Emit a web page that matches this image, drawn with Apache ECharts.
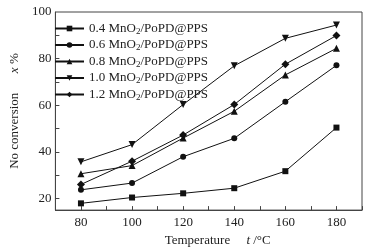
<!DOCTYPE html>
<html>
<head>
<meta charset="utf-8">
<script src="https://cdn.jsdelivr.net/npm/echarts@6/dist/echarts.min.js"></script>
<style>
  html, body { margin: 0; padding: 0; background: #fff; }
  #main { width: 369px; height: 252px; }
</style>
</head>
<body>
<div id="main"></div>
<script>
// 温度 (x轴)
const temps = [80, 100, 120, 140, 160, 180];
// 各样品的 NO 转化率
const conv04 = [17.9, 20.4, 22.2, 24.4, 31.7, 50.4];
const conv06 = [23.7, 26.6, 37.9, 45.8, 61.5, 77.1];
const conv08 = [30.6, 34.1, 45.9, 57.4, 73.0, 84.4];
const conv10 = [35.7, 43.1, 60.3, 76.9, 88.7, 94.4];
const conv12 = [26.0, 36.0, 47.2, 60.3, 77.6, 89.9];
const loadings = ['0.4', '0.6', '0.8', '1.0', '1.2'];
// 刻度
const yLabels = [20, 40, 60, 80, 100];
const yTicks = [20, 30, 40, 50, 60, 70, 80, 90];

const seriesData = [conv04, conv06, conv08, conv10, conv12];
const symbols = ['rect', 'circle', 'triangle', 'path://M0,0 L10,0 L5,9 Z', 'diamond'];
const symbolSizes = [6, 6, 7, 7, 8];

const font = 'Liberation Serif';
const chart = echarts.init(document.getElementById('main'));

let series = [];
for (let i = 0; i < seriesData.length; i++) {
  series.push({
    name: loadings[i] + ' MnO2/PoPD@PPS',
    type: 'line',
    data: temps.map((t, j) => [t, seriesData[i][j]]),
    symbol: symbols[i],
    symbolSize: symbolSizes[i],
    showAllSymbol: true,
    lineStyle: { color: '#111', width: 1 },
    itemStyle: { color: '#111' }
  });
}

chart.setOption({
  animation: false,
  grid: { left: 46, right: 7, top: 12, bottom: 33, show: true, borderColor: '#444', borderWidth: 1 },
  legend: {
    left: 54, top: 21, padding: 0,
    orient: 'vertical',
    itemWidth: 29, itemHeight: 7, itemGap: 1.5,
    textStyle: { fontFamily: font, fontSize: 13, color: '#222', lineHeight: 15,
      rich: {
        a: { fontFamily: font, fontSize: 13, color: '#222', lineHeight: 15 },
        s: { fontFamily: font, fontSize: 9, color: '#222', lineHeight: 15, verticalAlign: 'bottom', padding: [5, 0, 0, 0] }
      }
    },
    formatter: function (name) {
      const p = name.split('MnO2');
      return '{a|' + p[0] + 'MnO}{s|2}{a|' + p[1] + '}';
    }
  },
  xAxis: {
    type: 'value', min: 70, max: 190, interval: 10,
    name: 'Temperature     {i|t} /°C',
    nameLocation: 'middle', nameGap: 23,
    nameTextStyle: { fontFamily: font, fontSize: 13, color: '#222', padding: [0, 0, 0, 18],
      rich: { i: { fontFamily: font, fontStyle: 'italic', fontSize: 13, color: '#222' } } },
    axisLine: { lineStyle: { color: '#444' } },
    axisTick: { inside: true, length: 4, lineStyle: { color: '#444' } },
    axisLabel: { fontFamily: font, fontSize: 13, color: '#222', margin: 6,
      formatter: v => (v % 20 === 0 && v >= 80 && v <= 180) ? String(v) : '' },
    splitLine: { show: false }
  },
  yAxis: {
    type: 'value', min: 15, max: 100,
    name: 'No conversion      {i|x} %',
    nameLocation: 'middle', nameGap: 29,
    nameTextStyle: { fontFamily: font, fontSize: 13, color: '#222',
      rich: { i: { fontFamily: font, fontStyle: 'italic', fontSize: 13, color: '#222' } } },
    axisLine: { lineStyle: { color: '#444' } },
    axisTick: { inside: true, length: 4, customValues: yTicks, lineStyle: { color: '#444' } },
    axisLabel: { fontFamily: font, fontSize: 13, color: '#222', margin: 4, customValues: yLabels },
    splitLine: { show: false }
  },
  series: series
});
</script>
</body>
</html>
